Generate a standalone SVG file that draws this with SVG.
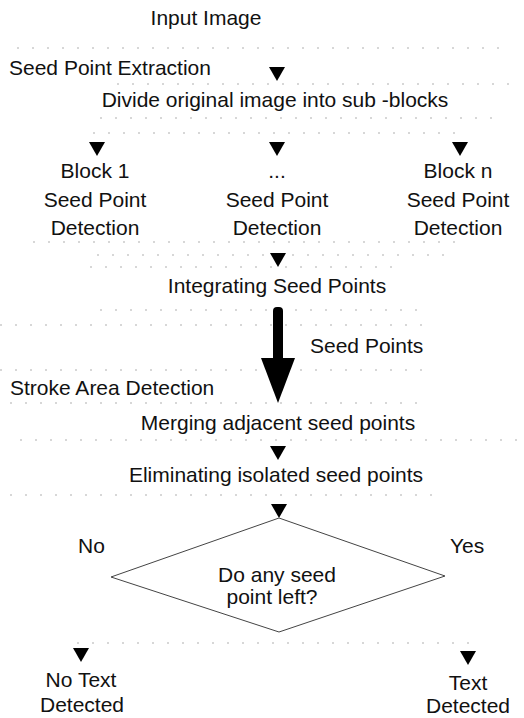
<svg xmlns="http://www.w3.org/2000/svg" width="524" height="718" viewBox="0 0 524 718">
<style>
text{font-family:"Liberation Sans",Arial,sans-serif;font-size:21px;fill:#111}
.c{text-anchor:middle}
.f{stroke:#b0b0b0;stroke-width:1.2;stroke-dasharray:2 13;fill:none}
.ah{fill:#000}
</style>
<defs>
<path id="ah" d="M-8,0 L8,0 L0,14 Z"/>
</defs>
<g id="faint">
<line class="f" x1="17" y1="48" x2="508" y2="48"/>
<line class="f" x1="117" y1="84" x2="510" y2="84"/>
<line class="f" x1="100" y1="118" x2="503" y2="118"/>
<line class="f" x1="93" y1="133" x2="460" y2="133"/>
<line class="f" x1="33" y1="242" x2="467" y2="242"/>
<line class="f" x1="97" y1="255" x2="457" y2="255"/>
<line class="f" x1="90" y1="267" x2="400" y2="267"/>
<line class="f" x1="100" y1="310" x2="430" y2="310"/>
<line class="f" x1="0" y1="325" x2="430" y2="325"/>
<line class="f" x1="0" y1="370" x2="433" y2="370"/>
<line class="f" x1="10" y1="403" x2="417" y2="403"/>
<line class="f" x1="20" y1="440" x2="520" y2="440"/>
<line class="f" x1="10" y1="495" x2="433" y2="495"/>
<line class="f" x1="77" y1="643" x2="470" y2="643"/>
</g>
<g id="connectors">
<use href="#ah" class="ah" x="277" y="67"/>
<use href="#ah" class="ah" x="97" y="142"/>
<use href="#ah" class="ah" x="277" y="142"/>
<use href="#ah" class="ah" x="460" y="142"/>
<use href="#ah" class="ah" x="278" y="253"/>
<rect x="273" y="307" width="10" height="55" rx="4" fill="#000"/>
<polygon points="261,358 295,358 278,403" fill="#000"/>
<use href="#ah" class="ah" x="278" y="446"/>
<use href="#ah" class="ah" x="279" y="504"/>
<use href="#ah" class="ah" x="81" y="648"/>
<use href="#ah" class="ah" x="468" y="651"/>
</g>
<g id="title"><text class="c" x="206" y="25">Input Image</text></g>
<g id="stage1-label"><text x="9" y="75">Seed Point Extraction</text></g>
<g id="divide"><text class="c" x="275" y="107">Divide original image into sub -blocks</text></g>
<g id="block1">
<text class="c" x="95" y="178">Block 1</text>
<text class="c" x="95" y="207">Seed Point</text>
<text class="c" x="95" y="235">Detection</text>
</g>
<g id="blockdots">
<text class="c" x="277" y="178">...</text>
<text class="c" x="277" y="207">Seed Point</text>
<text class="c" x="277" y="235">Detection</text>
</g>
<g id="blockn">
<text class="c" x="458" y="178">Block n</text>
<text class="c" x="458" y="207">Seed Point</text>
<text class="c" x="458" y="235">Detection</text>
</g>
<g id="integrate"><text class="c" x="277" y="293">Integrating Seed Points</text></g>
<g id="seedpoints-label"><text x="310" y="353">Seed Points</text></g>
<g id="stage2-label"><text x="10" y="395">Stroke Area Detection</text></g>
<g id="merge"><text class="c" x="278" y="430">Merging adjacent seed points</text></g>
<g id="eliminate"><text class="c" x="276" y="482">Eliminating isolated seed points</text></g>
<g id="decision">
<polygon points="279,518 445,576 279,632 111,577" fill="none" stroke="#444" stroke-width="1"/>
<text class="c" x="277" y="582">Do any seed</text>
<text class="c" x="272" y="604">point left?</text>
</g>
<g id="no-label"><text x="78" y="553">No</text></g>
<g id="yes-label"><text x="450" y="553">Yes</text></g>
<g id="notext">
<text class="c" x="81" y="687">No Text</text>
<text class="c" x="82" y="712">Detected</text>
</g>
<g id="text">
<text class="c" x="468" y="690">Text</text>
<text class="c" x="468" y="713">Detected</text>
</g>
</svg>
